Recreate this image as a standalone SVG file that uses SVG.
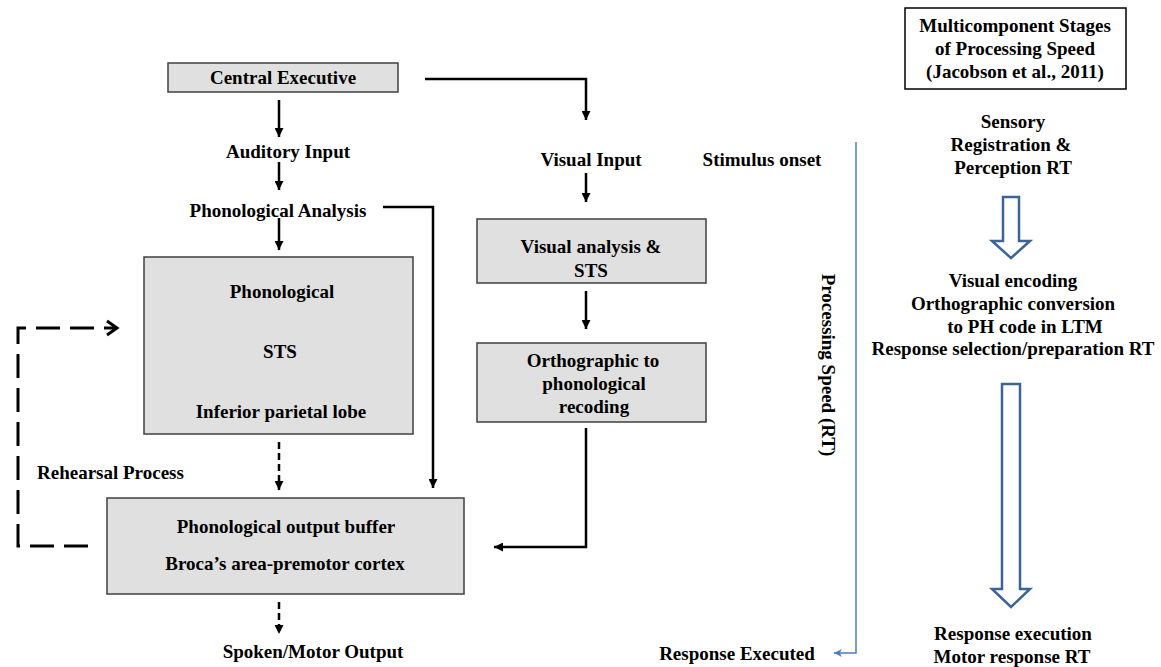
<svg xmlns="http://www.w3.org/2000/svg" width="1161" height="667" viewBox="0 0 1161 667">
<defs>
<style>
text{font-family:"Liberation Serif","Times New Roman",serif;font-weight:bold;font-size:19px;fill:#000;text-anchor:middle}
.box{fill:#e0e0e0;stroke:#404040;stroke-width:1.5}
.wbox{fill:#fff;stroke:#000;stroke-width:1.5}
.ln{fill:none;stroke:#000;stroke-width:2.5}
.dsh{fill:none;stroke:#000;stroke-width:2.5;stroke-dasharray:7 4}
.loop{fill:none;stroke:#000;stroke-width:3;stroke-dasharray:24 10}
.blue{fill:none;stroke:#4a7ebb;stroke-width:1.5}
.hollow{fill:#fff;stroke:#3d6497;stroke-width:2.5;stroke-linejoin:miter}
</style>
<marker id="ah" viewBox="0 0 10 10" refX="10" refY="5" markerWidth="9" markerHeight="9" markerUnits="userSpaceOnUse" orient="auto"><path d="M0,0 L10,5 L0,10 z" fill="#000"/></marker>
<marker id="bh" viewBox="0 0 10 10" refX="10" refY="5" markerWidth="9" markerHeight="8" markerUnits="userSpaceOnUse" orient="auto"><path d="M0,0 L10,5 L0,10 L3,5 z" fill="#4a7ebb"/></marker>
</defs>

<g id="connectors">
<path class="ln" d="M279,100 V137" marker-end="url(#ah)"/>
<path class="ln" d="M279,162 V190" marker-end="url(#ah)"/>
<path class="ln" d="M279,218 V250" marker-end="url(#ah)"/>
<path class="dsh" d="M279,442 V490" marker-end="url(#ah)"/>
<path class="dsh" d="M279,602 V634" marker-end="url(#ah)"/>
<path class="ln" d="M383,207 H433 V488" marker-end="url(#ah)"/>
<path class="ln" d="M425,79 H586 V120" marker-end="url(#ah)"/>
<path class="ln" d="M586,173 V202" marker-end="url(#ah)"/>
<path class="ln" d="M586,291 V329" marker-end="url(#ah)"/>
<path class="ln" d="M586,428 V547 H494" marker-end="url(#ah)"/>
<path class="loop" d="M88,546 H18 V328 H116"/>
<path d="M107,321 L117,328 L107,335" fill="none" stroke="#000" stroke-width="3"/>
<path class="blue" d="M856,142 V653 H834" marker-end="url(#bh)"/>
</g>

<g id="central-executive">
<rect class="box" x="168" y="63" width="230" height="29"/>
<text x="283" y="84">Central Executive</text>
</g>
<g id="auditory-input"><text x="288" y="158">Auditory Input</text></g>
<g id="phonological-analysis"><text x="278" y="217">Phonological Analysis</text></g>
<g id="phonological-sts">
<rect class="box" x="144" y="257" width="269" height="177"/>
<text x="282" y="298">Phonological</text>
<text x="280" y="358">STS</text>
<text x="281" y="418">Inferior parietal lobe</text>
</g>
<g id="rehearsal"><text x="37" y="479" style="text-anchor:start">Rehearsal Process</text></g>
<g id="output-buffer">
<rect class="box" x="107" y="498" width="357" height="96"/>
<text x="286" y="533">Phonological output buffer</text>
<text x="285" y="570">Broca’s area-premotor cortex</text>
</g>
<g id="spoken-output"><text x="313" y="658">Spoken/Motor Output</text></g>

<g id="visual-input"><text x="591" y="166">Visual Input</text></g>
<g id="stimulus-onset"><text x="762" y="166">Stimulus onset</text></g>
<g id="visual-analysis">
<rect class="box" x="477" y="219" width="229" height="64"/>
<text x="591" y="253">Visual analysis &amp;</text>
<text x="591" y="277">STS</text>
</g>
<g id="orthographic">
<rect class="box" x="477" y="343" width="229" height="79"/>
<text x="593" y="367">Orthographic to</text>
<text x="594" y="390">phonological</text>
<text x="594" y="413">recoding</text>
</g>

<g id="processing-speed"><text transform="translate(822,365) rotate(90)" x="0" y="0">Processing Speed (RT)</text></g>
<g id="response-executed"><text x="737" y="660">Response Executed</text></g>

<g id="title">
<rect class="wbox" x="905" y="8" width="221" height="81"/>
<text x="1015" y="32">Multicomponent Stages</text>
<text x="1015" y="55">of Processing Speed</text>
<text x="1015" y="78">(Jacobson et al., 2011)</text>
</g>
<g id="stage1">
<text x="1013" y="128">Sensory</text>
<text x="1011" y="151">Registration &amp;</text>
<text x="1013" y="174">Perception RT</text>
</g>
<g id="arrow1"><polygon class="hollow" points="1003,197 1019,197 1019,241 1030,241 1011,258 992,241 1003,241"/></g>
<g id="stage2">
<text x="1013" y="287">Visual encoding</text>
<text x="1013" y="310">Orthographic conversion</text>
<text x="1025" y="333">to PH code in LTM</text>
<text x="1013" y="355">Response selection/preparation RT</text>
</g>
<g id="arrow2"><polygon class="hollow" points="1002,384 1020,384 1020,589 1030,589 1011,607 992,589 1002,589"/></g>
<g id="stage3">
<text x="1013" y="640">Response execution</text>
<text x="1012" y="663">Motor response RT</text>
</g>
</svg>
